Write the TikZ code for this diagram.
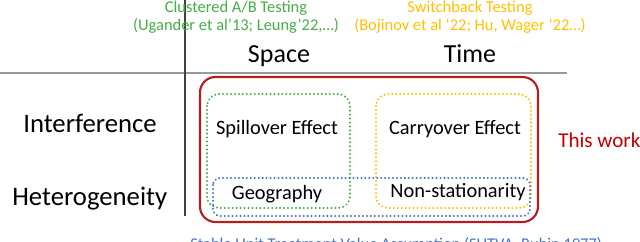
\documentclass[tikz,border=0pt]{standalone}
\usepackage{fontspec}
\setmainfont{Carlito}
\usepackage{tikz}
\usetikzlibrary{calc}
\definecolor{cgreen}{RGB}{70,173,71}
\definecolor{corange}{RGB}{255,192,0}
\definecolor{cblue}{RGB}{68,114,196}
\definecolor{cred}{RGB}{192,0,0}
\definecolor{cbox}{RGB}{180,30,30}

\begin{document}
\begin{tikzpicture}[x=0.025cm, y=-0.025cm, inner sep=0pt,
  cite/.style={font=\fontsize{11.7}{14}\selectfont},
  head/.style={font=\fontsize{18.5}{22}\selectfont, anchor=base},
  rowlab/.style={font=\fontsize{19}{23}\selectfont, anchor=base west},
  cell/.style={font=\fontsize{14.5}{17}\selectfont, anchor=base},
  dotbox/.style={line width=1.6pt, dash pattern=on 0.01pt off 2.8pt, line cap=round, rounded corners=8.5pt}]

  \useasboundingbox (0,0) rectangle (640,242);

  % Axes
  \draw[gray!80, line width=0.8pt] (0,73) -- (567,73);
  \draw[black!75, line width=0.8pt] (185,0) -- (185,216);

  % ---- Column headings ----
  \node[cite, cgreen, anchor=base] (clustered) at (236,13) {Clustered A/B Testing};
  \node[cite, cgreen, anchor=base] (clusteredref) at (236,31) {(Ugander et al’13; Leung’22,…)};
  \node[cite, corange, anchor=base] (switch) at (470,13) {Switchback Testing};
  \node[cite, corange, anchor=base] (switchref) at (470,31) {(Bojinov et al ‘22; Hu, Wager ’22…)};
  \node[head] (space) at (279,63) {Space};
  \node[head] (time) at (470,63) {Time};

  % ---- Row headings ----
  \node[rowlab] (interf) at (23,133) {Interference};
  \node[rowlab] (hetero) at (12,206) {Heterogeneity};

  % ---- Boxes ----
  \draw[cbox, line width=1.5pt, rounded corners=11pt] (200,77) rectangle (538,222);
  \draw[dotbox, cgreen] (207,94) rectangle (350,208);
  \draw[dotbox, corange] (376,94) rectangle (531,208);
  \draw[dotbox, cblue, rounded corners=5pt] (213,178) rectangle (530,216);

  % ---- Cells ----
  \node[cell] (spill) at (277,135) {Spillover Effect};
  \node[cell] (carry) at (455,135) {Carryover Effect};
  \node[cell] (geo) at (277,200) {Geography};
  \node[cell] (nonstat) at (458,198) {Non-stationarity};

  \node[cell, cred, anchor=base west, font=\fontsize{15}{18}\selectfont] (thiswork) at (558,148) {This work};

  % ---- SUTVA ----
  \node[cite, cblue, anchor=base west] (sutva) at (190,250) {Stable Unit Treatment Value Assumption (SUTVA, Rubin 1977)};

\end{tikzpicture}
\end{document}
